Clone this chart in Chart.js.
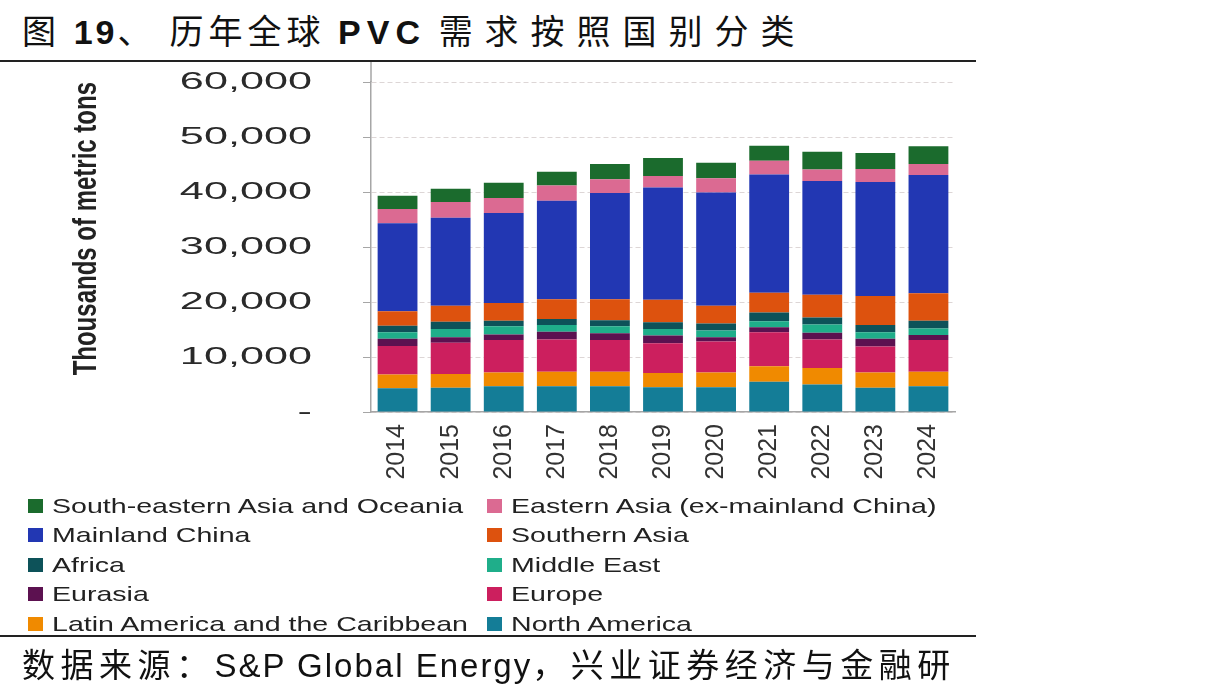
<!DOCTYPE html>
<html>
<head>
<meta charset="utf-8">
<script src="https://cdn.jsdelivr.net/npm/chart.js@4.4.1/dist/chart.umd.min.js"></script>
<style>
  body { margin: 0; background: #fff; width: 1215px; height: 696px; position: relative; overflow: hidden; }
  #title { position: absolute; left: 22px; top: 8px; font-family: "Noto Sans CJK SC", sans-serif; font-size: 34px; line-height: 44px; color: #111; letter-spacing: 5px; white-space: nowrap; }
  #title b { font-family: "Liberation Sans", Arial, sans-serif; font-weight: bold; letter-spacing: 3px; }
  #title b.pvc { letter-spacing: 6px; }
  #title .dun { letter-spacing: 18px; }
  #title .tail { letter-spacing: 12px; }
  .rule { position: absolute; left: 0; width: 976px; height: 2px; background: #222; }
  #wrap { position: absolute; left: 0; top: 0; width: 1215px; height: 696px; }
  #legend { position: absolute; left: 28px; top: 491px; display: grid; grid-template-columns: 459px 460px; grid-auto-rows: 29.5px; }
  .item { display: flex; align-items: center; white-space: nowrap; }
  .box { width: 15px; height: 14px; margin-right: 9px; flex: none; }
  .lbl { font-family: "Liberation Sans", Arial, sans-serif; font-size: 21px; color: #222; transform: scaleX(1.36); transform-origin: left center; }
  #source { position: absolute; left: 22px; top: 641px; font-family: "Noto Sans CJK SC", sans-serif; font-size: 33px; line-height: 44px; color: #111; letter-spacing: 5.5px; white-space: nowrap; }
  #source span { font-family: "Liberation Sans", Arial, sans-serif; letter-spacing: 2px; }
</style>
</head>
<body>
<div id="title">图 <b>19</b><span class="dun">、</span>历年全球 <b class="pvc">PVC</b> <span class="tail">需求按照国别分类</span></div>
<div class="rule" style="top:60px"></div>
<div id="wrap"><canvas id="chart"></canvas></div>
<div id="legend"></div>
<div class="rule" style="top:635px"></div>
<div id="source">数据来源：<span>S&amp;P Global Energy</span>，兴业证券经济与金融研</div>

<script>
const years = ['2014', '2015', '2016', '2017', '2018', '2019', '2020', '2021', '2022', '2023', '2024'];

// thousands of metric tons, stacked from the bottom up
const northAmerica  = [4300, 4400, 4700, 4700, 4700, 4500, 4500, 5500, 5000, 4400, 4700];
const latinAmerica  = [2500, 2500, 2500, 2600, 2600, 2600, 2700, 2800, 3000, 2800, 2600];
const europe        = [5200, 5700, 5900, 5900, 5800, 5400, 5600, 6200, 5200, 4700, 5800];
const eurasia       = [1300, 1000, 1000, 1400, 1200, 1400, 800, 900, 1200, 1400, 900];
const middleEast    = [1200, 1500, 1500, 1200, 1300, 1200, 1200, 1100, 1500, 1200, 1200];
const africa        = [1200, 1300, 1000, 1100, 1100, 1200, 1300, 1600, 1300, 1300, 1400];
const southernAsia  = [2600, 2900, 3200, 3600, 3800, 4100, 3200, 3600, 4100, 5300, 5000];
const mainlandChina = [16000, 16000, 16400, 17900, 19300, 20400, 20600, 21500, 20700, 20700, 21500];
const easternAsia   = [2600, 2900, 2700, 2800, 2500, 2100, 2600, 2500, 2100, 2400, 2000];
const seAsia        = [2400, 2400, 2800, 2500, 2800, 3300, 2800, 2700, 3200, 2900, 3200];

const yTicks = [0, 10000, 20000, 30000, 40000, 50000, 60000];

const series = [
    { label: 'North America', data: northAmerica, color: '#147d97' },
    { label: 'Latin America and the Caribbean', data: latinAmerica, color: '#f08a00' },
    { label: 'Europe', data: europe, color: '#cc1f5e' },
    { label: 'Eurasia', data: eurasia, color: '#5c1150' },
    { label: 'Middle East', data: middleEast, color: '#1fae8a' },
    { label: 'Africa', data: africa, color: '#0d5259' },
    { label: 'Southern Asia', data: southernAsia, color: '#dd520e' },
    { label: 'Mainland China', data: mainlandChina, color: '#2237b3' },
    { label: 'Eastern Asia (ex-mainland China)', data: easternAsia, color: '#db6a92' },
    { label: 'South-eastern Asia and Oceania', data: seAsia, color: '#1b6b2d' }
];

// the source picture is stretched sideways: widen y labels and y title around a fixed x
function stretchX(ctx, x, k, fn) {
    ctx.save();
    ctx.translate(x, 0);
    ctx.scale(k, 1);
    ctx.translate(-x, 0);
    fn();
    ctx.restore();
}

const stretchY = {
    id: 'stretchY',
    beforeDraw(chart) {
        const s = chart.scales.y;
        if (s._stretched) return;
        const drawLabels = s.drawLabels.bind(s);
        const drawTitle = s.drawTitle.bind(s);
        s.drawLabels = function(area) {
            const ax = s.right - s.options.grid.tickLength - s.options.ticks.padding;
            stretchX(chart.ctx, ax, 1.8, () => drawLabels(area));
        };
        s.drawTitle = function() {
            const t = s.options.title;
            const tx = s.left + t.font.size * 1.2 / 2 + t.padding.top;
            stretchX(chart.ctx, tx, 1.35, () => drawTitle());
        };
        s._stretched = true;
    },
    afterDraw(chart) {
        // axis line runs on up to the title rule
        const ctx = chart.ctx;
        const x = chart.chartArea.left;
        ctx.save();
        ctx.strokeStyle = '#a6a6a6';
        ctx.lineWidth = 1.5;
        ctx.beginPath();
        ctx.moveTo(x, 62);
        ctx.lineTo(x, chart.chartArea.top);
        ctx.stroke();
        ctx.restore();
    }
};

const chart = new Chart(document.getElementById('chart'), {
    type: 'bar',
    data: {
        labels: years,
        datasets: series.map(s => ({
            label: s.label,
            data: s.data,
            backgroundColor: s.color,
            borderWidth: 0,
            categoryPercentage: 1,
            barPercentage: 0.75
        }))
    },
    options: {
        responsive: true,
        maintainAspectRatio: false,
        animation: false,
        layout: { padding: { top: 82, left: 0, right: 260, bottom: 204 } },
        plugins: {
            legend: { display: false },
            tooltip: { enabled: false }
        },
        scales: {
            x: {
                stacked: true,
                grid: { display: false, drawTicks: false },
                border: { color: '#a6a6a6', width: 1.5 },
                ticks: {
                    minRotation: 90,
                    maxRotation: 90,
                    padding: 12,
                    color: '#333',
                    font: { family: '"Liberation Sans", Arial, sans-serif', size: 25 }
                },
                afterFit: scale => { scale.height = 80; }
            },
            y: {
                stacked: true,
                min: 0,
                max: 60000,
                afterBuildTicks: scale => { scale.ticks = yTicks.map(v => ({ value: v })); },
                grid: { color: '#ddd6d6', tickColor: '#a6a6a6', tickLength: 8 },
                border: { color: '#a6a6a6', width: 1.5, dash: [5, 3] },
                ticks: {
                    padding: 51,
                    color: '#2a2a2a',
                    font: { family: '"Liberation Sans", Arial, sans-serif', size: 24 },
                    callback: v => v === 0 ? '-' : v.toLocaleString('en-US')
                },
                title: {
                    display: true,
                    text: 'Thousands of metric tons',
                    align: 'end',
                    color: '#222',
                    padding: { top: 73 },
                    font: { family: '"Liberation Sans", Arial, sans-serif', size: 24, weight: 'bold' }
                },
                afterFit: scale => { scale.width = 371; }
            }
        }
    },
    plugins: [stretchY]
});

// legend: two columns, last series first
const legendEl = document.getElementById('legend');
series.slice().reverse().forEach(s => {
    const item = document.createElement('div');
    item.className = 'item';
    item.innerHTML = `<span class="box" style="background:${s.color}"></span><span class="lbl">${s.label}</span>`;
    legendEl.appendChild(item);
});
</script>
</body>
</html>
